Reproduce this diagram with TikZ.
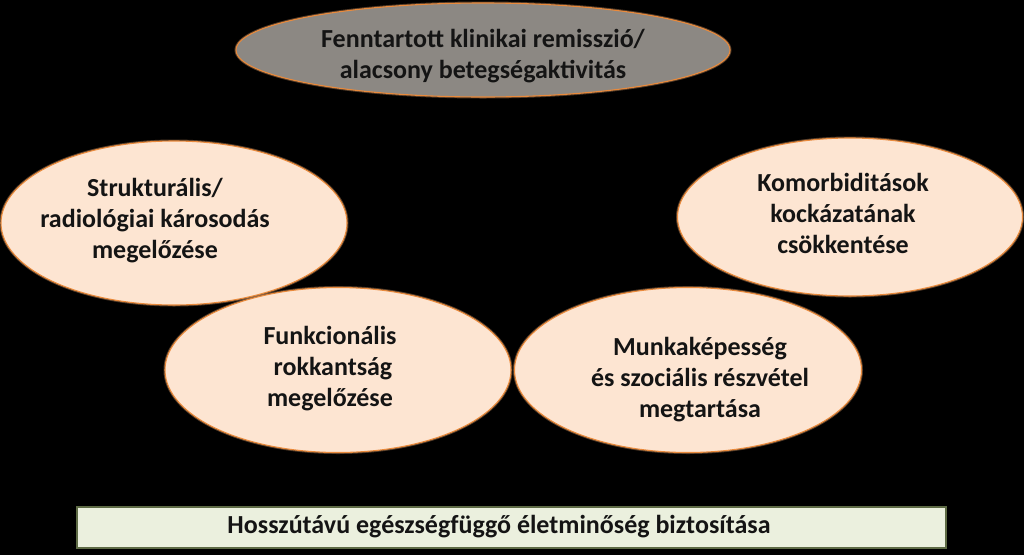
\documentclass[tikz,border=0pt]{standalone}
\usepackage{fontspec}
\setmainfont{Carlito}
\usetikzlibrary{shapes.geometric}
\definecolor{peach}{HTML}{FDE5D2}
\definecolor{grayfill}{HTML}{8C8883}
\definecolor{edgeor}{HTML}{E98A3C}
\definecolor{greenfill}{HTML}{EBF0DE}
\definecolor{greenedge}{HTML}{5E6B45}
\definecolor{txt}{HTML}{141414}
\tikzset{
  oval/.style={ellipse, inner sep=0pt, draw=edgeor, line width=1.1pt,
    preaction={draw=edgeor!70, line width=3pt, opacity=0.35}},
  lbl/.style={align=center, font=\fontsize{26}{31}\selectfont\bfseries, text=txt, inner sep=0pt},
}
\begin{document}
\begin{tikzpicture}[x=1pt,y=-1pt]
\fill[black] (0,0) rectangle (1024,555);
\useasboundingbox (0,0) rectangle (1024,555);
% ellipses
\node[oval, fill=grayfill, minimum width=494pt, minimum height=94pt] (eTop) at (483,50) {};
\node[oval, fill=peach, minimum width=346pt, minimum height=164pt] (eStr) at (174,223) {};
\node[oval, fill=peach, minimum width=345pt, minimum height=158pt] (eKom) at (850,217) {};
\node[oval, fill=peach, minimum width=346pt, minimum height=165pt] (eFun) at (338,370) {};
\node[oval, fill=peach, minimum width=347pt, minimum height=165pt] (eMun) at (688,370) {};
% texts
\node[lbl] (tTop) at (483,56) {Fenntartott klinikai remisszió/\\alacsony betegségaktivitás};
\node[lbl] (tStr) at (155,221) {Strukturális/\\radiológiai károsodás\\megelőzése};
\node[lbl] (tKom) at (843,213) {Komorbiditások\\kockázatának\\csökkentése};
\node[lbl] (tFun) at (330,369) {Funkcionális\\\ rokkantság\\megelőzése};
\node[lbl] (tMun) at (700,380) {Munkaképesség\\és szociális részvétel\\megtartása};
% bottom bar
\node[draw=greenedge, line width=1.2pt, fill=greenfill, minimum width=869pt, minimum height=41pt, inner sep=0pt] (bar) at (511.5,527.5) {};
\node[lbl, font=\fontsize{26}{30}\selectfont\bfseries] (tBar) at (499,527) {Hosszútávú egészségfüggő életminőség biztosítása};
\end{tikzpicture}
\end{document}
